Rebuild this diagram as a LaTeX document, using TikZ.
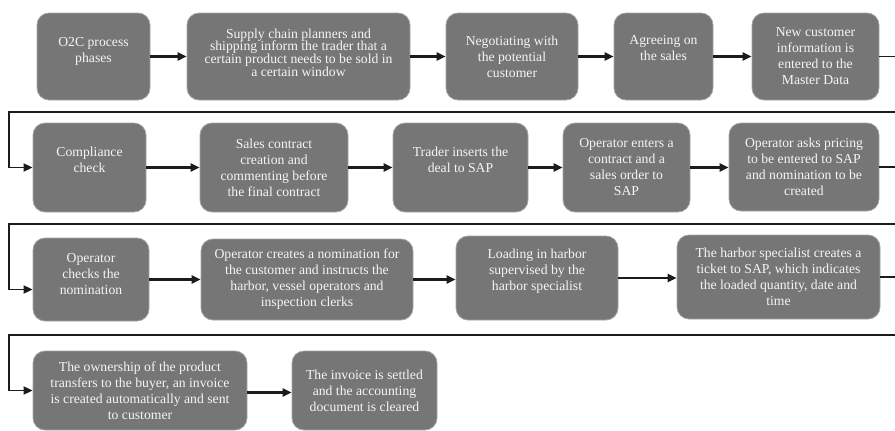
\documentclass[tikz,border=0pt]{standalone}
\usepackage{fontspec}
\setmainfont{Liberation Serif}
\usetikzlibrary{arrows.meta}
\definecolor{boxfill}{RGB}{118,118,119}
\definecolor{boxedge}{RGB}{165,165,165}
\definecolor{linecol}{RGB}{28,28,28}
\tikzset{
  box/.style={draw=boxedge, line width=0.8pt, fill=boxfill, rounded corners=12pt,
    text={rgb,255:red,245;green,245;blue,245}, align=center, inner sep=0pt,
    font=\fontsize{13.7pt}{16pt}\selectfont},
  up/.style={text depth=#1},
  flow/.style={draw=linecol, line width=2.4pt, -{Triangle[length=9pt,width=8pt]}},
  feed/.style={draw=linecol, line width=1.8pt, -{Triangle[length=9pt,width=8pt]}},
}
\begin{document}
\begin{tikzpicture}[x=1pt,y=-1pt]
\useasboundingbox (0,0) rectangle (895,431);
\clip (0,0) rectangle (895,431);
% row 1
\node[box, up=14pt, minimum width=113, minimum height=87] (b1) at (93.5,56.5) {O2C process\\phases};
\node[box, up=8pt, font=\fontsize{13.7pt}{12.8pt}\selectfont, minimum width=223, minimum height=87] (b2) at (298.5,56.5) {Supply chain planners and\\shipping inform the trader that a\\certain product needs to be sold in\\a certain window};
\node[box, minimum width=132, minimum height=87] (b3) at (512,56.5) {Negotiating with\\the potential\\customer};
\node[box, up=17pt, minimum width=99, minimum height=87] (b4) at (663.5,56.5) {Agreeing on\\the sales};
\node[box, minimum width=127, minimum height=87] (b5) at (815.5,56.5) {New customer\\information is\\entered to the\\Master Data};
% row 2
\node[box, up=15pt, minimum width=113, minimum height=89] (b6) at (89.5,167.5) {Compliance\\check};
\node[box, minimum width=148, minimum height=89] (b7) at (274,167.5) {Sales contract\\creation and\\commenting before\\the final contract};
\node[box, up=16pt, minimum width=135, minimum height=89] (b8) at (460.5,167.5) {Trader inserts the\\deal to SAP};
\node[box, minimum width=127, minimum height=89] (b9) at (626.5,167.5) {Operator enters a\\contract and a\\sales order to\\SAP};
\node[box, minimum width=150, minimum height=88] (b10) at (804,167) {Operator asks pricing\\to be entered to SAP\\and nomination to be\\created};
% row 3
\node[box, up=12pt, minimum width=116, minimum height=83] (b11) at (91,279.5) {Operator\\checks the\\nomination};
\node[box, minimum width=212, minimum height=81] (b12) at (307,279.5) {Operator creates a nomination for\\the customer and instructs the\\harbor, vessel operators and\\inspection clerks};
\node[box, up=17pt, minimum width=162, minimum height=84] (b13) at (537,278) {Loading in harbor\\supervised by the\\harbor specialist};
\node[box, minimum width=203, minimum height=84] (b14) at (778.5,277) {The harbor specialist creates a\\ticket to SAP, which indicates\\the loaded quantity, date and\\time};
% row 4
\node[box, minimum width=214, minimum height=79] (b15) at (140,390.5) {The ownership of the product\\transfers to the buyer, an invoice\\is created automatically and sent\\to customer};
\node[box, minimum width=145, minimum height=79] (b16) at (364.5,390.5) {The invoice is settled\\and the accounting\\document is cleared};
% connectors row 1
\draw[flow] (b1.east) -- (b1.east -| b2.west);
\draw[flow] (b2.east) -- (b2.east -| b3.west);
\draw[flow] (b3.east) -- (b3.east -| b4.west);
\draw[flow] (b4.east) -- (b4.east -| b5.west);
% feed 1 -> 2
\coordinate (f1r) at (905,112);
\coordinate (f1l) at (9,112);
\draw[feed] (b5.east) -| (f1r) -- (f1l) |- (b6.west);
% row 2
\draw[flow] (b6.east) -- (b6.east -| b7.west);
\draw[flow] (b7.east) -- (b7.east -| b8.west);
\draw[flow] (b8.east) -- (b8.east -| b9.west);
\draw[flow] (b9.east) -- (b9.east -| b10.west);
% feed 2 -> 3
\coordinate (f2r) at (905,224);
\coordinate (f2l) at (9,224);
\draw[feed] (b10.east) -| (f2r) -- (f2l) |- ([yshift=-10pt]b11.west);
% row 3
\draw[flow] (b11.east) -- (b11.east -| b12.west);
\draw[flow] (b12.east) -- (b12.east -| b13.west);
\draw[flow] (b13.east) -- (b13.east -| b14.west);
% feed 3 -> 4
\coordinate (f3r) at (905,335);
\coordinate (f3l) at (9,335);
\draw[feed] (b14.east) -| (f3r) -- (f3l) |- (b15.west);
% row 4
\draw[flow] ([yshift=-2pt]b15.east) -- ([yshift=-2pt]b15.east -| b16.west);
\end{tikzpicture}
\end{document}
